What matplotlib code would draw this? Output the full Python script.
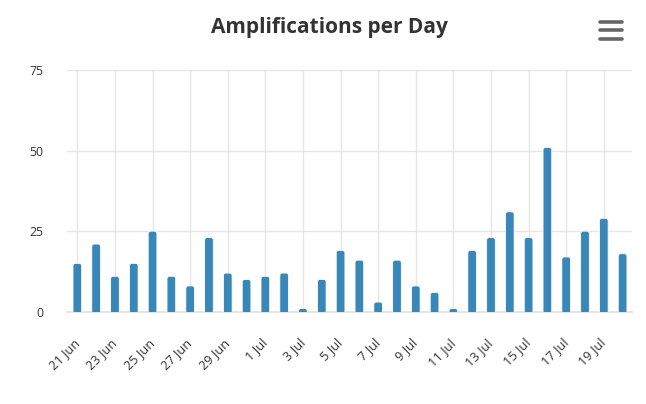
import numpy as np
import matplotlib
matplotlib.use('Agg')
import matplotlib.pyplot as plt
import matplotlib.transforms as mtransforms
from matplotlib.patches import FancyBboxPatch

# Amplifications per day, 21 Jun - 20 Jul
dias = ['21 Jun', '22 Jun', '23 Jun', '24 Jun', '25 Jun', '26 Jun', '27 Jun', '28 Jun',
        '29 Jun', '30 Jun', '1 Jul', '2 Jul', '3 Jul', '4 Jul', '5 Jul', '6 Jul',
        '7 Jul', '8 Jul', '9 Jul', '10 Jul', '11 Jul', '12 Jul', '13 Jul', '14 Jul',
        '15 Jul', '16 Jul', '17 Jul', '18 Jul', '19 Jul', '20 Jul']
amplificacoes = [15, 21, 11, 15, 25, 11, 8, 23, 12, 10, 11, 12, 1, 10, 19, 16,
                 3, 16, 8, 6, 1, 19, 23, 31, 23, 51, 17, 25, 29, 18]
y_ticks = [0, 25, 50, 75]

plt.rcParams['font.family'] = ['Open Sans', 'DejaVu Sans']

W, H = 646, 404
fig = plt.figure(figsize=(W / 100, H / 100), dpi=100)
ax = fig.add_axes([67 / W, 1 - 311.7 / H, 565 / W, 241.7 / H])

x = np.arange(len(dias))
ax.set_xlim(-0.55, 29.5)
ax.set_ylim(0, 75)

# pixel -> data units, for the rounded bar tops
px_x = (29.5 + 0.55) / 565
px_y = 75 / 241.7
largura = 8.7 * px_x
raio = 2.5 * px_x
for xi, v in zip(x, amplificacoes):
    p = FancyBboxPatch((xi - largura / 2, -3), largura, v + 3,
                       boxstyle=f'round,pad=0,rounding_size={raio}',
                       mutation_aspect=px_y / px_x,
                       facecolor='#3986b9', edgecolor='white', linewidth=0.6,
                       zorder=3, clip_on=True)
    ax.add_patch(p)

ax.set_xticks(x[::2])
ax.set_xticklabels(dias[::2], rotation=45, ha='right', va='center',
                   rotation_mode='anchor', fontsize=9.2, color='#333333')
# nudge rotated labels a bit to the right, like the original
desloc = mtransforms.ScaledTranslation(4 / 100, 0, fig.dpi_scale_trans)
for lbl in ax.get_xticklabels():
    lbl.set_transform(lbl.get_transform() + desloc)
ax.set_yticks(y_ticks)
ax.set_yticklabels([str(t) for t in y_ticks], fontsize=8.8, color='#333333')
ax.tick_params(axis='y', length=0, pad=17)
ax.tick_params(axis='x', length=0, pad=21)

ax.grid(True, color='#e6e6e6', linewidth=1.0, zorder=0)
ax.set_axisbelow(True)
for s in ['top', 'right', 'left']:
    ax.spines[s].set_visible(False)
ax.spines['bottom'].set_color('#e0e0e0')
ax.spines['bottom'].set_linewidth(1.2)

fig.text(329 / W, 1 - 27.5 / H, 'Amplifications per Day', ha='center', va='center',
         fontsize=15, fontweight='bold', color='#333333')

# menu icon (hamburger)
for yy in [22, 30, 38.5]:
    fig.add_artist(plt.Line2D([600 / W, 622 / W], [1 - yy / H, 1 - yy / H],
                              color='#666666', linewidth=2.6,
                              solid_capstyle='round'))

fig.savefig('out.png', dpi=100)
